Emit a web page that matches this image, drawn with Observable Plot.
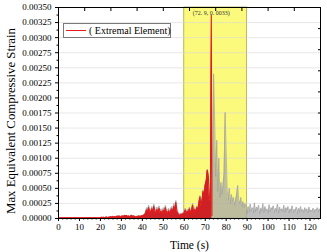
<!DOCTYPE html>
<html><head><meta charset="utf-8">
<script src="https://cdn.jsdelivr.net/npm/d3@7"></script>
<script src="https://cdn.jsdelivr.net/npm/@observablehq/plot@0.6"></script>
<style>
body{margin:0;background:#fff;font-family:"Liberation Serif",serif;}
#wrap{position:relative;width:327px;height:252px;}
#legend{position:absolute;left:63px;top:23px;width:106px;height:13px;border:1px solid #7a7a7a;background:#fff;font-size:10px;line-height:13px;white-space:nowrap;color:#000;}
#legend .sw{position:absolute;left:2px;top:6px;width:20px;height:0;border-top:1.2px solid #e41a1c;}
#legend .lb{position:absolute;left:25px;top:0;}
</style></head><body><div id="wrap"></div>
<script>
// ---- data ----
const seriesNames = ["( Extremal Element)"];
const stepSec = 0.5;      // sampling interval of the series (s)
const unit = 1e-5;        // values below are in units of 1e-5 strain
const redE5 = [
 1,1,1,1,1,1,1,1,1,1,1,1,1,1,1,1,1,1,1,1,
 1,1,1,1,1,1,1,1,1,1,1,1,1,1,1,1,1,1,1,1,
 1,2,1,2,1,2,2,1,2,2,3,2,3,2,3,2,4,3,4,2,
 3,4,3,5,4,5,3,4,3,4,5,3,4,3,2,3,3,4,3,4,
 4,5,6,8,14,10,18,12,9,16,11,20,13,8,15,10,17,9,12,7,
 14,8,18,11,7,13,9,12,16,10,20,14,27,12,8,6,5,7,6,8,
 9,14,8,12,10,16,9,13,22,11,15,10,18,14,25,36,20,30,45,38,
 55,62,80,70,35,28
];
const redPeak = {t: 72.9, v: 337};
const redEnd = {t: 73.2, v: 5};
const grayE5 = [
 1,1,1,1,1,1,1,1,1,1,1,1,1,1,1,1,1,1,1,1,
 1,1,1,1,1,1,1,1,1,1,2,1,1,1,2,1,1,1,1,1,
 1,2,2,2,1,2,3,2,2,3,3,2,4,3,3,2,4,3,5,3,
 4,5,3,6,4,5,4,4,3,5,6,4,5,3,3,4,4,5,3,5,
 5,6,7,10,18,14,22,16,12,20,15,24,17,11,19,14,21,12,16,10,
 18,11,22,14,10,17,13,16,20,14,25,18,30,15,11,8,7,9,8,10,
 12,17,11,15,13,19,12,16,25,14,18,13,21,17,28,38,24,33,48,40,58,65,82,72,40,32,
 20,60,240,165,70,130,45,100,35,60,40,55,75,176,
 110,45,30,50,25,40,28,35,22,30,40,55,30,25,35,20,28,18,25,15,
 8,20,10,24,12,18,9,26,11,19,
 14,22,8,17,12,25,10,20,13,16,
 9,23,11,18,15,21,10,17,12,24,
 9,19,13,16,11,22,10,18,14,20,
 9,16,12,21,10,15,13,19,8,17,
 11,20,12,15,10,18,13,16,9,19,
 11,14,12,17,10,15,13,18,11,16,
 12
];
const highlight = [{start: 60, end: 90}];
const annotation = [{t: 72.9, v: 0.0033, label: "(72. 9, 0. 0033)"}];
const xTicks = [0,10,20,30,40,50,60,70,80,90,100,110,120];
const yTicks = [0,0.00025,0.0005,0.00075,0.001,0.00125,0.0015,0.00175,0.002,0.00225,0.0025,0.00275,0.003,0.00325,0.0035];
const xTitle = "Time (s)";
const yTitle = "Max Equivalent Compressive Strain";

// ---- build ----
const redData = redE5.map((v, i) => ({t: i * stepSec, v: v * unit}))
  .concat([redPeak, redEnd].map(d => ({t: d.t, v: d.v * unit})));
const grayData = grayE5.map((v, i) => ({t: i * stepSec, v: v * unit}));
const xMinor = d3.range(0, 125.001, 2).filter(v => v % 10 !== 0);
const yMinor = yTicks.slice(0, -1).map(v => v + 0.000125);
const topTicks = d3.range(0, 125.001, 12.5);
const rightTicks = d3.range(0, 0.0035, 0.00035);

const chart = Plot.plot({
  width: 327, height: 252,
  marginLeft: 58, marginRight: 7, marginTop: 7, marginBottom: 34,
  style: {fontFamily: '"Liberation Serif", serif', fontSize: "9px", color: "#000", background: "white"},
  x: {domain: [0, 125]},
  y: {domain: [0, 0.0035]},
  marks: [
    Plot.rect(highlight, {x1: "start", x2: "end", fill: "#fbfa7c", stroke: "#a5a548", strokeWidth: 0.8}),
    Plot.gridY(yTicks.slice(1, -1), {stroke: "#d9d9d9", strokeOpacity: 1, strokeWidth: 0.6}),
    Plot.areaY(grayData, {x: "t", y: "v", fill: "#a8a8a8", fillOpacity: 0.75}),
    Plot.line(grayData, {x: "t", y: "v", stroke: "#a0a0a0", strokeWidth: 0.7}),
    Plot.areaY(redData, {x: "t", y: "v", fill: "#cf1016", fillOpacity: 0.9}),
    Plot.line(redData, {x: "t", y: "v", stroke: "#e41a1c", strokeWidth: 1.1}),
    Plot.text(annotation, {x: "t", y: "v", text: "label", dy: -6, fontSize: 6, fill: "#333"}),
    Plot.frame({stroke: "#000", strokeWidth: 1}),
    Plot.axisY(yTicks, {tickFormat: d3.format(".5f"), tickSize: 3, tickPadding: 4, label: null}),
    Plot.axisY(yMinor, {tickSize: 1.5, tickFormat: () => "", label: null}),
    Plot.axisX(xTicks, {tickSize: 3, tickPadding: 2.5, label: null}),
    Plot.axisX(xMinor, {tickSize: 1.5, tickFormat: () => "", label: null}),
    Plot.axisX(topTicks, {anchor: "top", tickSize: -3, tickFormat: () => "", label: null}),
    Plot.axisY(rightTicks, {anchor: "right", tickSize: -3, tickFormat: () => "", label: null}),
    Plot.text([xTitle], {text: d => d, frameAnchor: "bottom", dy: 27, lineAnchor: "middle", fontSize: 11.5}),
    Plot.text([yTitle], {text: d => d, frameAnchor: "left", dx: -48, dy: 8, rotate: -90, textAnchor: "middle", lineAnchor: "middle", fontSize: 12.8})
  ]
});
const wrap = document.getElementById("wrap");
wrap.appendChild(chart);
const leg = document.createElement("div");
leg.id = "legend";
leg.innerHTML = `<span class="sw"></span><span class="lb">${seriesNames[0]}</span>`;
wrap.appendChild(leg);
</script>
</body></html>
